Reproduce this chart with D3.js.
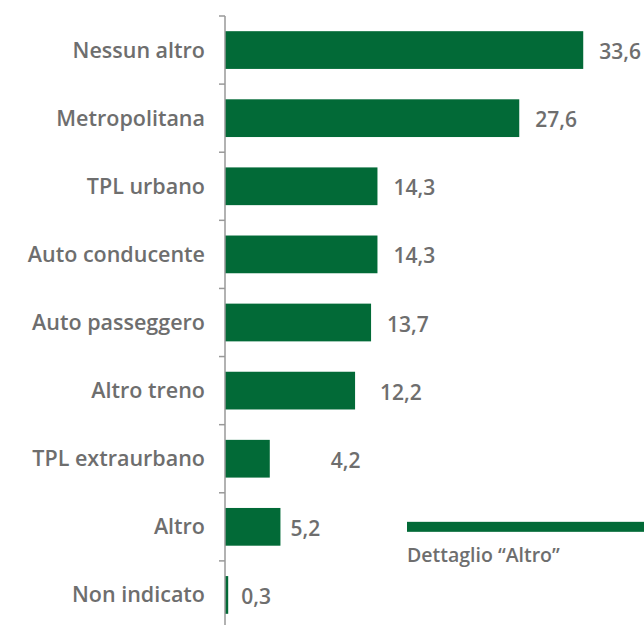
<!DOCTYPE html>
<html>
<head>
<meta charset="utf-8">
<title>Altri mezzi utilizzati</title>
<script src="https://cdn.jsdelivr.net/npm/d3@7"></script>
<style>
html, body { margin: 0; padding: 0; background: #fff; }
svg { display: block; }
.lbl { font-family: "Open Sans", Lato, sans-serif; font-weight: 600; fill: #6e6e6e; }
</style>
</head>
<body>
<svg id="chart" width="644" height="625"></svg>
<script>
// data
var categories = ["Nessun altro", "Metropolitana", "TPL urbano", "Auto conducente",
                  "Auto passeggero", "Altro treno", "TPL extraurbano", "Altro", "Non indicato"];
var values = [33.6, 27.6, 14.3, 14.3, 13.7, 12.2, 4.2, 5.2, 0.3];
var valueLabels = ["33,6", "27,6", "14,3", "14,3", "13,7", "12,2", "4,2", "5,2", "0,3"];
var detailLabel = "Dettaglio \u201cAltro\u201d";

var green = "#026a37";
var axisX = 225;

var svg = d3.select("#chart");

var x = d3.scaleLinear().domain([0, 39.3]).range([axisX, 644]);
var y = d3.scaleBand()
    .domain(categories)
    .range([16, 629])
    .paddingInner(0.446)
    .paddingOuter(0.223);

// label tweaks (the original placed a few labels by hand)
var labelNudge = { "TPL extraurbano": 45, "Altro treno": 9, "Altro": -6, "Non indicato": -3 };

// bars
svg.selectAll("rect.bar")
    .data(categories)
    .enter().append("rect")
    .attr("class", "bar")
    .attr("x", axisX)
    .attr("y", function(d) { return y(d); })
    .attr("width", function(d, i) { return x(values[i]) - axisX; })
    .attr("height", y.bandwidth())
    .attr("fill", green);

// value labels
svg.selectAll("text.val")
    .data(categories)
    .enter().append("text")
    .attr("class", "lbl val")
    .attr("x", function(d, i) { return x(values[i]) + 16 + (labelNudge[d] || 0); })
    .attr("y", function(d) { return y(d) + y.bandwidth() / 2 + 1; })
    .attr("dominant-baseline", "central")
    .style("font-size", "21px")
    .text(function(d, i) { return valueLabels[i]; });

// category axis
var axis = svg.append("g")
    .attr("transform", "translate(" + axisX + ",0)")
    .call(d3.axisLeft(y).tickSize(0).tickPadding(20));
axis.select(".domain").remove();
axis.selectAll("text")
    .attr("class", "lbl")
    .attr("fill", null)
    .style("font-size", "21.5px")
    .attr("dy", "0.35em");

svg.append("line")
    .attr("x1", axisX).attr("x2", axisX)
    .attr("y1", y.range()[0]).attr("y2", y.range()[1])
    .attr("stroke", "#999").attr("stroke-width", 1.5);

// ticks at band boundaries
var bounds = d3.range(categories.length + 1).map(function(i) { return y.range()[0] + i * y.step(); });
svg.selectAll("line.tick")
    .data(bounds)
    .enter().append("line")
    .attr("x1", axisX - 6).attr("x2", axisX)
    .attr("y1", function(d) { return d; })
    .attr("y2", function(d) { return d; })
    .attr("stroke", "#999").attr("stroke-width", 1.5);

// "Dettaglio Altro" marker
var altroMid = y("Altro") + y.bandwidth() / 2;
svg.append("rect")
    .attr("x", 407).attr("y", altroMid - 5)
    .attr("width", 237).attr("height", 10)
    .attr("fill", green);
svg.append("text")
    .attr("class", "lbl")
    .attr("x", 407).attr("y", altroMid + 35)
    .style("font-size", "19.5px")
    .text(detailLabel);
</script>
</body>
</html>
